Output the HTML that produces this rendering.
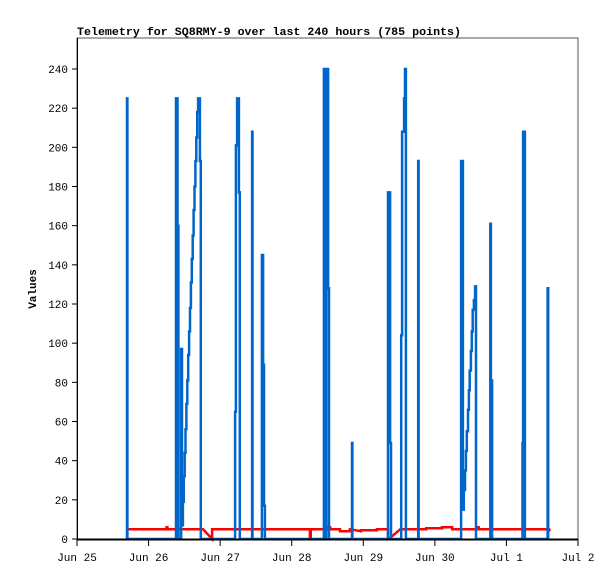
<!DOCTYPE html>
<html><head><meta charset="utf-8"><style>
body{margin:0;background:#fff;}
svg text{font-family:"Liberation Mono",monospace;font-size:11px;fill:#000;}
</style></head><body>
<svg width="615" height="579" xmlns="http://www.w3.org/2000/svg">
<rect x="0" y="0" width="615" height="579" fill="#fff"/>
<text x="77" y="35" font-weight="bold" textLength="384" lengthAdjust="spacingAndGlyphs">Telemetry for SQ8RMY-9 over last 240 hours (785 points)</text>
<text transform="translate(36,289) rotate(-90)" text-anchor="middle" font-weight="bold">Values</text>
<rect x="77" y="38" width="501" height="501" fill="none" stroke="#555" stroke-width="1"/>
<g id="series"></g>
<line x1="77" y1="539.5" x2="578" y2="539.5" stroke="#000" stroke-width="2"/>
<line x1="77.5" y1="38" x2="77.5" y2="540" stroke="#000" stroke-width="1"/>
<g id="axes"></g>
</svg>
<script>
const xTickLabels=["Jun 25","Jun 26","Jun 27","Jun 28","Jun 29","Jun 30","Jul 1","Jul 2"];
const yTicks=[0,20,40,60,80,100,120,140,160,180,200,220,240];
const blueTimes=[16.6,16.77,16.9, 33.0,33.2,33.7,34.0,34.9,35.2,35.5,35.8,36.1,36.4,36.7,37.0,37.3,37.6,37.9,38.2,38.5,38.8,39.1,39.4,39.7,40.0,40.3,40.6,41.2,41.5,
 52.8,53.0,53.3,53.7,54.3,54.6, 58.5,58.7,58.85, 61.8,62.0,62.4,62.7,63.0,
 82.6,82.8,83.1,83.2,83.5,83.6,84.2,84.5, 92.0,92.2,92.35, 104.1,104.3,105.0,105.3, 108.5,108.7,109.0,109.7,110.0,110.3, 114.2,114.4,114.55,
 128.6,128.8,129.4,129.7,130.1,130.4,130.7,131.1,131.4,131.7,132.1,132.4,132.7,133.1,133.5,133.8,134.1,
 138.6,138.8,139.2,139.5, 149.4,149.6,150.2,150.5, 157.8,158.0,158.2];
const blueValues=[0,225,0, 0,225,160,0,97,7,19,32,44,56,69,81,94,106,118,131,143,155,168,180,193,205,218,225,193,0,
 0,65,201,225,177,0, 0,208,0, 0,145,89,17,0,
 0,240,0,240,0,240,128,0, 0,49,0, 0,177,49,0, 0,104,208,225,240,0, 0,193,0,
 0,193,15,25,35,45,55,66,76,86,96,106,117,122,129,0,
 0,161,81,0, 0,49,208,0, 0,128,0];
const redTimes=[16.77,30.0,30.0,30.3,30.3,42.3,45.3,45.3,45.6,78.1,78.1,78.4,78.4,84.2,84.2,84.9,84.9,88.2,88.2,91.5,91.5,95.2,95.2,100.6,100.6,104.3,104.3,105.0,108.4,117.1,117.1,122.4,122.4,125.8,125.8,134.1,134.1,134.7,134.7,158.3,158.6];
const redValues=[5,5,6,6,5,5,0,5,5,5,0,0,5,5,6,6,5,5,4,4,5,4,4.5,4.5,5,5,0,0.5,5,5,5.5,5.5,6,6,5,5,6,6,5,5,4];
const X0=77,X1=578,Y0=539,Y1=69,HMAX=168,VMAX=240;
const sx=h=>X0+h*(X1-X0)/HMAX;
const sy=v=>Y0-v*(Y0-Y1)/VMAX;
const NS="http://www.w3.org/2000/svg";
const axes=document.getElementById('axes'),series=document.getElementById('series');
xTickLabels.forEach((lab,i)=>{
  const x=sx(i*24);
  const t=document.createElementNS(NS,'line');
  t.setAttribute('x1',x);t.setAttribute('x2',x);t.setAttribute('y1',539);t.setAttribute('y2',546);t.setAttribute('stroke','#000');
  
  
  axes.appendChild(t);
  const tx=document.createElementNS(NS,'text');
  tx.setAttribute('x',x);tx.setAttribute('y',561);tx.setAttribute('text-anchor','middle');tx.textContent=lab;
  
  
  axes.appendChild(tx);
});
yTicks.forEach(v=>{
  const y=sy(v);
  const t=document.createElementNS(NS,'line');
  t.setAttribute('x1',72);t.setAttribute('x2',77);t.setAttribute('y1',y);t.setAttribute('y2',y);t.setAttribute('stroke','#000');
  
  
  axes.appendChild(t);
  const tx=document.createElementNS(NS,'text');
  tx.setAttribute('x',68);tx.setAttribute('y',y+4);tx.setAttribute('text-anchor','end');tx.textContent=v;
  
  
  axes.appendChild(tx);
});
let rp=redTimes.map((t,i)=>sx(t).toFixed(1)+','+sy(redValues[i]).toFixed(1)).join(' ');
const red=document.createElementNS(NS,'polyline');
red.setAttribute('points',rp);red.setAttribute('fill','none');red.setAttribute('stroke','#ff0000');red.setAttribute('stroke-width','2.5');


series.appendChild(red);
let bp=[];
blueTimes.forEach((t,i)=>{
  if(i>0) bp.push(sx(t).toFixed(1)+','+sy(blueValues[i-1]).toFixed(1));
  bp.push(sx(t).toFixed(1)+','+sy(blueValues[i]).toFixed(1));
});
const blue=document.createElementNS(NS,'polyline');
blue.setAttribute('points',bp.join(' '));blue.setAttribute('fill','none');blue.setAttribute('stroke','#0066cc');blue.setAttribute('stroke-width','2.5');


series.appendChild(blue);
</script>
</body></html>
